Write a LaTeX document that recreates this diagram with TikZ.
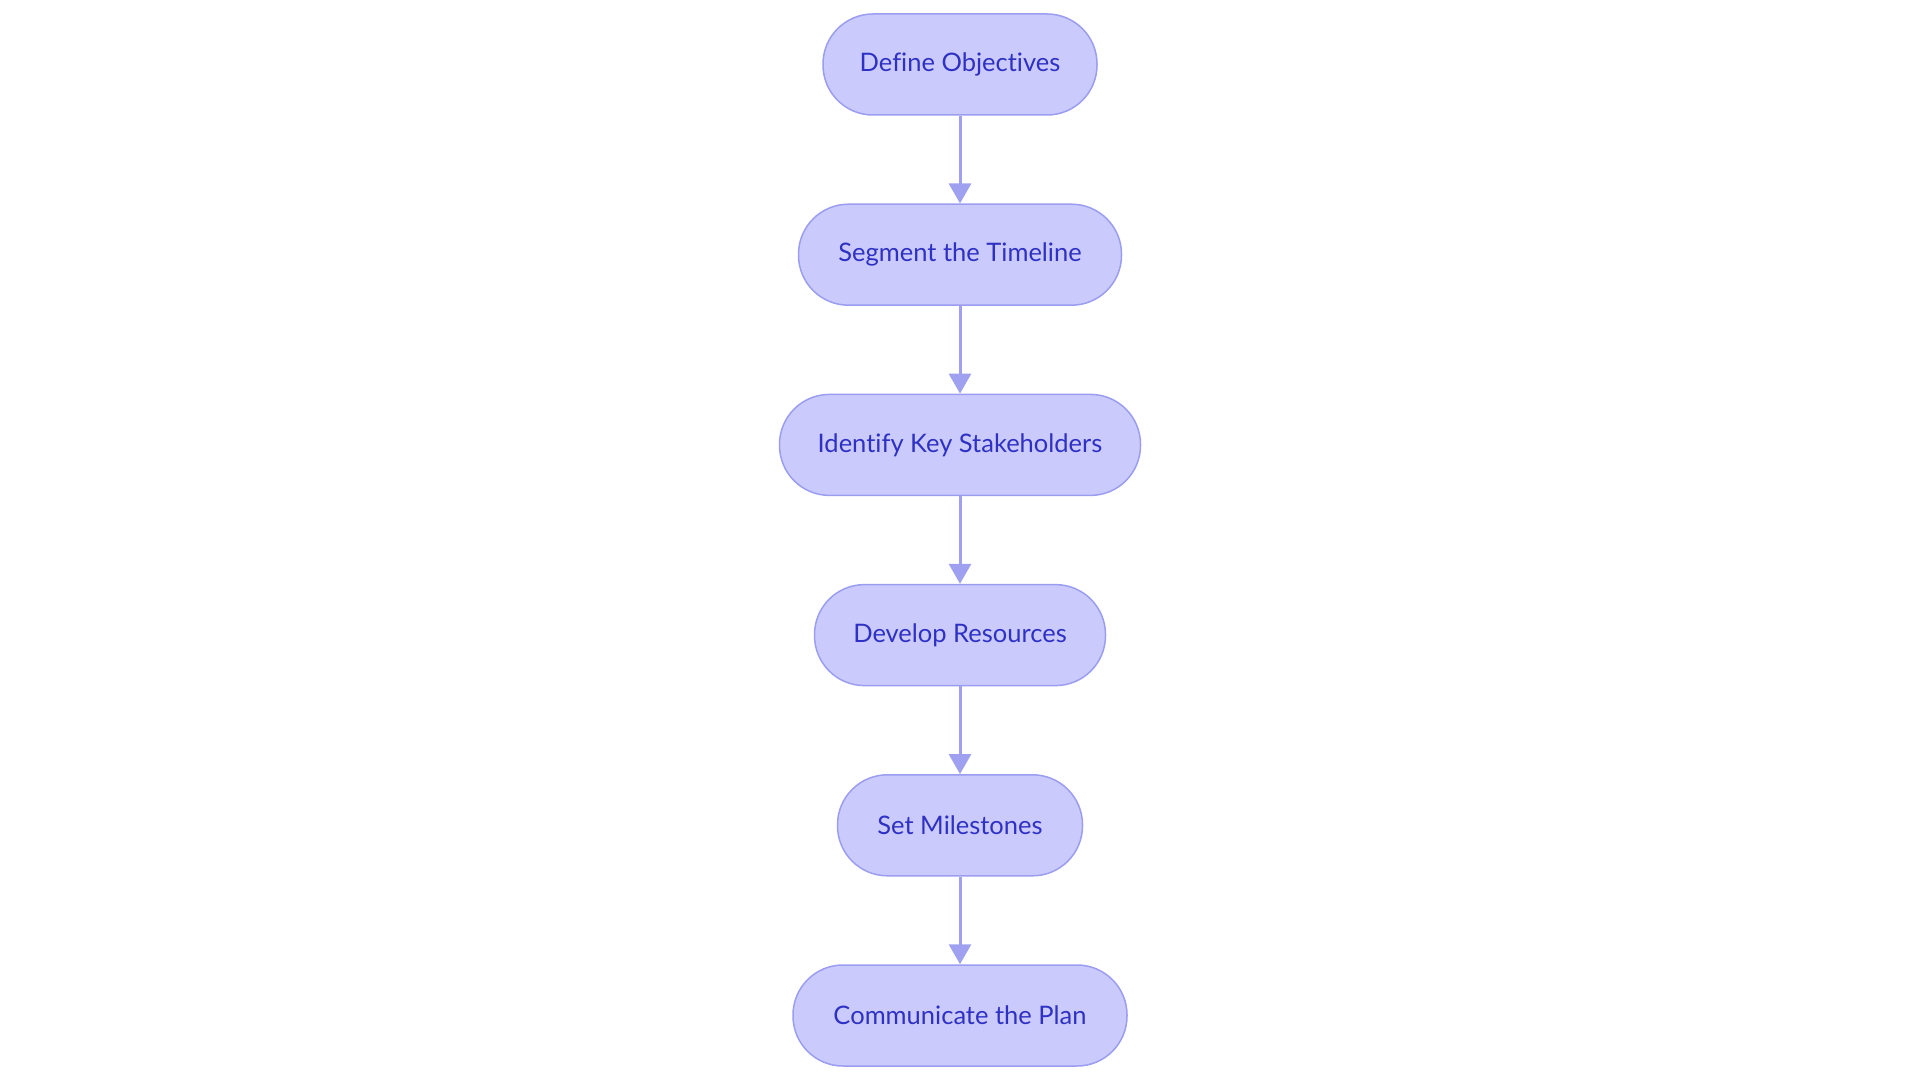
\documentclass[tikz,border=0pt]{standalone}
\usepackage{fontspec}
\setmainfont{Lato}[Ligatures=NoCommon]
\usetikzlibrary{arrows.meta}
\definecolor{boxfill}{HTML}{CACBFC}
\definecolor{boxline}{HTML}{9B9DF0}
\definecolor{boxtext}{HTML}{2F31C4}
\definecolor{arrowcol}{HTML}{9FA1F0}
\tikzset{
  stadium/.style={draw=boxline, fill=boxfill, line width=1.5pt, rounded corners=50pt,
    minimum height=101pt, inner sep=0pt, text=boxtext, font=\fontsize{25.5}{30}\selectfont},
  flow/.style={draw=arrowcol, line width=3pt, -{Triangle[width=22pt,length=20pt]}}
}
\begin{document}
\begin{tikzpicture}[x=1pt,y=-1pt]
\useasboundingbox (0,0) rectangle (1920,1083);
\node[stadium, minimum width=274pt] (n1) at (960,64.5) {Define Objectives};
\node[stadium, minimum width=323pt] (n2) at (960,254.7) {Segment the Timeline};
\node[stadium, minimum width=361pt] (n3) at (960,444.9) {Identify Key Stakeholders};
\node[stadium, minimum width=291pt] (n4) at (960,635.1) {Develop Resources};
\node[stadium, minimum width=245pt] (n5) at (960,825.3) {Set Milestones};
\node[stadium, minimum width=334pt] (n6) at (960,1015.5) {Communicate the Plan};
\draw[flow] (n1) -- (n2);
\draw[flow] (n2) -- (n3);
\draw[flow] (n3) -- (n4);
\draw[flow] (n4) -- (n5);
\draw[flow] (n5) -- (n6);
\end{tikzpicture}
\end{document}
